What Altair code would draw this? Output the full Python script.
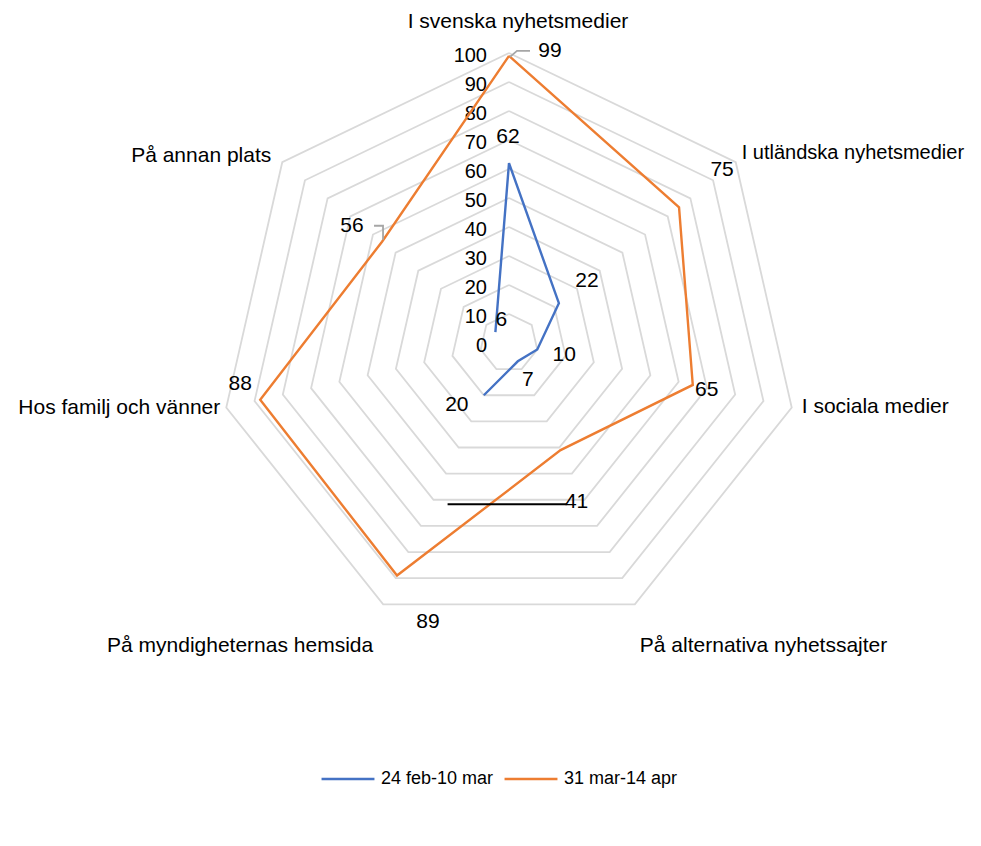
import altair as alt
import numpy as np
import pandas as pd

# ---------------- data ----------------
categories = [
    "I svenska nyhetsmedier",
    "I utländska nyhetsmedier",
    "I sociala medier",
    "På alternativa nyhetssajter",
    "På myndigheternas hemsida",
    "Hos familj och vänner",
    "På annan plats",
]
series_names = ["24 feb-10 mar", "31 mar-14 apr"]
values_feb = [62, 22, 10, 7, 20, None, 6]
values_mar = [99, 75, 65, 41, 89, 88, 56]
ring_levels = [10, 20, 30, 40, 50, 60, 70, 80, 90, 100]
ring_tick_labels = [0, 10, 20, 30, 40, 50, 60, 70, 80, 90, 100]

# ---------------- layout / style ----------------
W, H = 965, 830
CX, CY = 501, 335          # centre of the web inside the plot area (px)
S = 2.9                    # px per value unit
XDOM = [-CX / S, (W - CX) / S]
YDOM = [-(H - CY) / S, CY / S]
COLORS = ["#4472C4", "#ED7D31"]
FONT = "Liberation Sans"

# label placement (px offsets from the point / from the outer vertex)
data_label_offsets = {
    (0, 0): (-1, -26), (0, 1): (28, -22), (0, 2): (27, 6), (0, 3): (10, 19),
    (0, 4): (-27, 10), (0, 6): (6, -12),
    (1, 0): (41, -5), (1, 1): (43, -37), (1, 2): (14, 5), (1, 3): (16, 52),
    (1, 4): (31, 46), (1, 5): (-20, -16), (1, 6): (-30, -16),
}
cat_label_place = [
    ("center", 9, -31), ("left", 6, -9), ("left", 10, -1), ("left", 5, 42),
    ("right", -10, 42), ("right", -6, 0), ("right", -11, -6),
]
cat_font_sizes = [21, 20, 21, 21, 21, 21, 21]
leaders = {  # (series, idx): (color, [px offsets from the point])
    (1, 0): ("#A6A6A6", [(1, 1), (8, -5), (21, -5)]),
    (1, 6): ("#A6A6A6", [(1, -2), (1, -16), (-8, -16)]),
    (1, 3): ("#000000", [(-113, 54), (6, 54)]),
}

N = len(categories)
ang = [2 * np.pi * k / N for k in range(N)]


def polar(k, v):
    return v * np.sin(ang[k]), v * np.cos(ang[k])


# rings
ring_rows = []
for lv in ring_levels:
    for j in range(N + 1):
        x, y = polar(j % N, lv)
        ring_rows.append({"level": lv, "order": j, "x": x, "y": y})
rings = pd.DataFrame(ring_rows)

# series paths (a missing value breaks the closed loop)
series_rows = []
all_values = [values_feb, values_mar]
for si, vals in enumerate(all_values):
    if any(v is None for v in vals):
        miss = [i for i, v in enumerate(vals) if v is None][0]
        idxs = [(miss + 1 + j) % N for j in range(N)]
        idxs = [i for i in idxs if vals[i] is not None]
    else:
        idxs = list(range(N)) + [0]
    for o, i in enumerate(idxs):
        x, y = polar(i, vals[i])
        series_rows.append({"series": series_names[si], "order": o, "x": x, "y": y})
series_df = pd.DataFrame(series_rows)

# data labels
lab_rows = []
for si, vals in enumerate(all_values):
    for i, v in enumerate(vals):
        if v is None:
            continue
        x, y = polar(i, v)
        dx, dy = data_label_offsets[(si, i)]
        lab_rows.append({"label": str(v), "x": x + dx / S, "y": y - dy / S})
labels_df = pd.DataFrame(lab_rows)

# leader lines
lead_rows = []
for (si, i), (col, pts) in leaders.items():
    x, y = polar(i, all_values[si][i])
    for o, (dx, dy) in enumerate(pts):
        lead_rows.append({"key": f"{si}-{i}", "lcolor": col, "order": o,
                          "x": x + dx / S, "y": y - dy / S})
lead_df = pd.DataFrame(lead_rows)

# category labels
cat_rows = []
for k, name in enumerate(categories):
    x, y = polar(k, 100)
    al, dx, dy = cat_label_place[k]
    cat_rows.append({"name": name, "anchor": al, "fs": cat_font_sizes[k],
                     "x": x + dx / S, "y": y - dy / S})
cats_df = pd.DataFrame(cat_rows)

# ring tick labels
ticks_df = pd.DataFrame({"label": [str(t) for t in ring_tick_labels],
                         "y": ring_tick_labels, "x": [0] * len(ring_tick_labels)})

xs = alt.Scale(domain=XDOM, nice=False, zero=False)
ys = alt.Scale(domain=YDOM, nice=False, zero=False)
X = alt.X("x:Q", scale=xs, axis=None)
Y = alt.Y("y:Q", scale=ys, axis=None)

ring_layer = alt.Chart(rings).mark_line(color="#D9D9D9", strokeWidth=1.8).encode(
    x=X, y=Y, detail="level:N", order="order:Q")

tick_layer = alt.Chart(ticks_df).mark_text(
    align="right", baseline="middle", dx=-22, dy=3, fontSize=20, font=FONT, color="#000000"
).encode(x=X, y=Y, text="label:N")

series_layer = alt.Chart(series_df).mark_line(strokeWidth=2.4).encode(
    x=X, y=Y, order="order:Q",
    color=alt.Color("series:N", scale=alt.Scale(domain=series_names, range=COLORS),
                    legend=alt.Legend(title=None, orient="none", legendX=312, legendY=743,
                                      direction="horizontal", symbolType="stroke",
                                      symbolSize=2800, symbolStrokeWidth=2.4,
                                      labelFontSize=18, labelFont=FONT, labelColor="#000000",
                                      labelOffset=5, columnPadding=5, padding=0)),
)

lead_grey = alt.Chart(lead_df[lead_df["lcolor"] != "#000000"]).mark_line(
    color="#A6A6A6", strokeWidth=1.8).encode(x=X, y=Y, detail="key:N", order="order:Q")
lead_black = alt.Chart(lead_df[lead_df["lcolor"] == "#000000"]).mark_line(
    color="#000000", strokeWidth=2).encode(x=X, y=Y, detail="key:N", order="order:Q")

label_layer = alt.Chart(labels_df).mark_text(
    align="center", baseline="middle", fontSize=21, font=FONT, color="#000000"
).encode(x=X, y=Y, text="label:N")

cat_layers = []
for al in ["center", "left", "right"]:
    sub = cats_df[cats_df["anchor"] == al]
    cat_layers.append(alt.Chart(sub).mark_text(
        align=al, baseline="middle", font=FONT, color="#000000"
    ).encode(x=X, y=Y, text="name:N",
             size=alt.Size("fs:Q", scale=None, legend=None)))

chart = alt.layer(
    ring_layer, tick_layer, series_layer, lead_grey, lead_black, label_layer, *cat_layers
).properties(width=W, height=H, autosize=alt.AutoSizeParams(type="none"), padding=0
).configure_view(stroke=None)

chart.save("out.html", embed_options={"renderer": "svg", "actions": False})
